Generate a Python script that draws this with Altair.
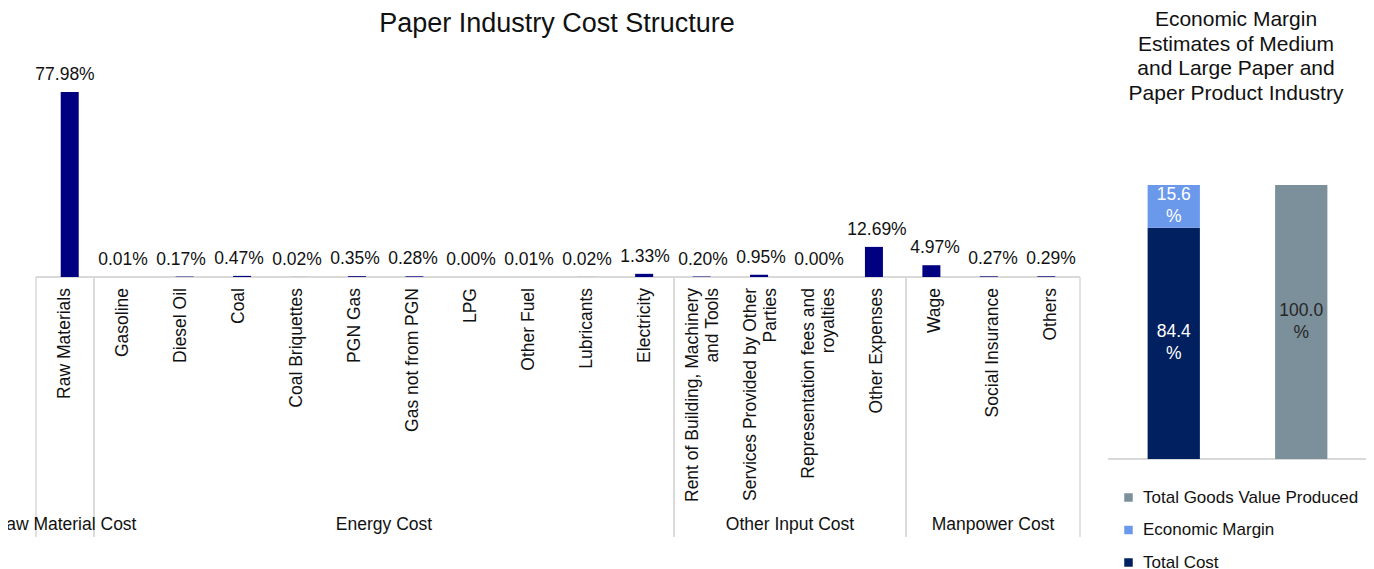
import altair as alt
import pandas as pd

# ---------------- data ----------------
main_title = ["Paper Industry Cost Structure"]
side_title = ["Economic Margin\nEstimates of Medium\nand Large Paper and\nPaper Product Industry"]

categories = [
    "Raw Materials", "Gasoline", "Diesel Oil", "Coal", "Coal Briquettes", "PGN Gas",
    "Gas not from PGN", "LPG", "Other Fuel", "Lubricants", "Electricity",
    "Rent of Building, Machinery\nand Tools", "Services Provided by Other\nParties",
    "Representation fees and\nroyalties", "Other Expenses",
    "Wage", "Social Insurance", "Others",
]
values = [77.98, 0.01, 0.17, 0.47, 0.02, 0.35, 0.28, 0.00, 0.01, 0.02, 1.33,
          0.20, 0.95, 0.00, 12.69, 4.97, 0.27, 0.29]
groups = (["Raw Material Cost"] + ["Energy Cost"] * 10 +
          ["Other Input Cost"] * 4 + ["Manpower Cost"] * 3)

margin_bar = ["Cost Breakdown", "Cost Breakdown", "Goods Value"]
margin_series = ["Total Cost", "Economic Margin", "Total Goods Value Produced"]
margin_values = [84.4, 15.6, 100.0]
margin_stack_order = [1, 2, 1]
legend_order = ["Total Goods Value Produced", "Economic Margin", "Total Cost"]

# ---------------- tables ----------------
df_left = pd.DataFrame({"idx": list(range(len(categories))), "category": categories,
                        "value": values, "group": groups})
df_right = pd.DataFrame({"bar": margin_bar, "series": margin_series,
                         "value": margin_values, "ord": margin_stack_order})

FONT = "Liberation Sans"
FS = 17.5
GRID = "#D9D9D9"
INK = "#111111"

LX = alt.Scale(domain=[-0.5, 17.5], range=[0, 1044], nice=False, zero=False)
LY = alt.Scale(domain=[0, 80], range=[269, 79.2], nice=False)
RX = alt.Scale(domain=["Cost Breakdown", "Goods Value"], range=[1074, 1329],
               paddingInner=0.59, paddingOuter=0.295)
RY = alt.Scale(domain=[0, 100], range=[451, 177], nice=False)

base = alt.Chart(df_left)

bars = base.mark_bar(color="#000080", size=18, orient="vertical").encode(
    x=alt.X("idx:Q", scale=LX, axis=None),
    y=alt.Y("value:Q", scale=LY, axis=None),
    y2=alt.datum(0),
)

value_labels = base.transform_calculate(
    lbl="format(datum.value, '.2f') + '%'"
).mark_text(baseline="alphabetic", dy=-12, fontSize=FS, color=INK).encode(
    x=alt.X("idx:Q", scale=LX, axis=None),
    y=alt.Y("value:Q", scale=LY, axis=None),
    text="lbl:N",
)

cat_single = base.transform_filter(
    "indexof(datum.category, '\\n') < 0"
).mark_text(angle=270, align="right", baseline="middle", fontSize=FS,
            color=INK).encode(
    x=alt.X("idx:Q", scale=LX, axis=None),
    y=alt.value(280),
    text="category:N",
)

cat_multi = base.transform_filter(
    "indexof(datum.category, '\\n') >= 0"
).mark_text(angle=270, align="right", baseline="middle", lineBreak="\n",
            lineHeight=20, dy=-10, fontSize=FS, color=INK).encode(
    x=alt.X("idx:Q", scale=LX, axis=None),
    y=alt.value(280),
    text="category:N",
)

baseline_rule = base.transform_aggregate(
    lo="min(idx)", hi="max(idx)"
).transform_calculate(
    x0="datum.lo - 0.5", x1="datum.hi + 0.5", zero="0"
).mark_rule(color=GRID, strokeWidth=2).encode(
    x=alt.X("x0:Q", scale=LX, axis=None),
    x2="x1:Q",
    y=alt.Y("zero:Q", scale=LY, axis=None),
)

sep_left = base.transform_aggregate(
    lo="min(idx)", groupby=["group"]
).transform_calculate(xs="datum.lo - 0.5").mark_rule(color=GRID, strokeWidth=1.5).encode(
    x=alt.X("xs:Q", scale=LX, axis=None),
    y=alt.value(269),
    y2=alt.value(529),
)
sep_right = base.transform_aggregate(
    hi="max(idx)", groupby=["group"]
).transform_calculate(xs="datum.hi + 0.5").mark_rule(color=GRID, strokeWidth=1.5).encode(
    x=alt.X("xs:Q", scale=LX, axis=None),
    y=alt.value(269),
    y2=alt.value(529),
)

group_labels = base.transform_aggregate(
    center="mean(idx)", groupby=["group"]
).mark_text(fontSize=FS, baseline="middle", color=INK).encode(
    x=alt.X("center:Q", scale=LX, axis=None),
    y=alt.value(517),
    text="group:N",
)

title_left = alt.Chart(pd.DataFrame({"t": main_title})).mark_text(
    fontSize=27, baseline="middle", align="center", color=INK
).encode(x=alt.value(521), y=alt.value(16), text="t:N")

title_right = alt.Chart(pd.DataFrame({"t": side_title})).mark_text(
    fontSize=21, baseline="middle", align="center", lineBreak="\n",
    lineHeight=24.7, color=INK
).encode(x=alt.value(1200), y=alt.value(12), text="t:N")

# ---------------- right stacked bars ----------------
rbase = alt.Chart(df_right).transform_stack(
    stack="value", groupby=["bar"], as_=["y0", "y1"],
    sort=[alt.SortField("ord", order="ascending")]
).transform_calculate(mid="(datum.y0 + datum.y1) / 2",
                      lbl="format(datum.value, '.1f') + '\\n%'")

rbars = rbase.mark_bar().encode(
    x=alt.X("bar:N", scale=RX, axis=None),
    y=alt.Y("y0:Q", scale=RY, axis=None),
    y2="y1:Q",
    color=alt.Color(
        "series:N",
        scale=alt.Scale(domain=legend_order, range=["#7B909B", "#6A98EB", "#002060"]),
        legend=alt.Legend(
            title=None, orient="none", legendX=1084, legendY=481, direction="vertical",
            symbolType="square", symbolSize=72, symbolStrokeWidth=0,
            labelFontSize=17, labelFont=FONT, labelColor=INK, labelLimit=400,
            labelOffset=6, rowPadding=14.5, padding=0,
        ),
    ),
)

rlabels = rbase.mark_text(fontSize=FS, baseline="middle", align="center",
                          lineBreak="\n", lineHeight=22, dy=-11).encode(
    x=alt.X("bar:N", scale=RX, axis=None),
    y=alt.Y("mid:Q", scale=RY, axis=None),
    text="lbl:N",
    color=alt.condition(alt.datum.series == "Total Goods Value Produced",
                        alt.value("#262626"), alt.value("#FFFFFF")),
)

raxis = alt.Chart(pd.DataFrame({"z": [0]})).mark_rule(color=GRID, strokeWidth=2).encode(
    x=alt.value(1072), x2=alt.value(1331),
    y=alt.Y("z:Q", scale=RY, axis=None),
)

chart = alt.layer(
    sep_left, sep_right, baseline_rule, bars, value_labels, cat_single, cat_multi,
    group_labels, title_left, title_right, raxis, rbars, rlabels,
).resolve_scale(
    x="independent", y="independent", color="independent"
).properties(
    width=1330, height=562,
    autosize=alt.AutoSizeParams(type="none"),
    padding={"left": 28, "top": 0, "right": 0, "bottom": 0},
).configure(font=FONT).configure_view(strokeWidth=0)

chart.save("out.html", embed_options={"renderer": "svg", "actions": False})
